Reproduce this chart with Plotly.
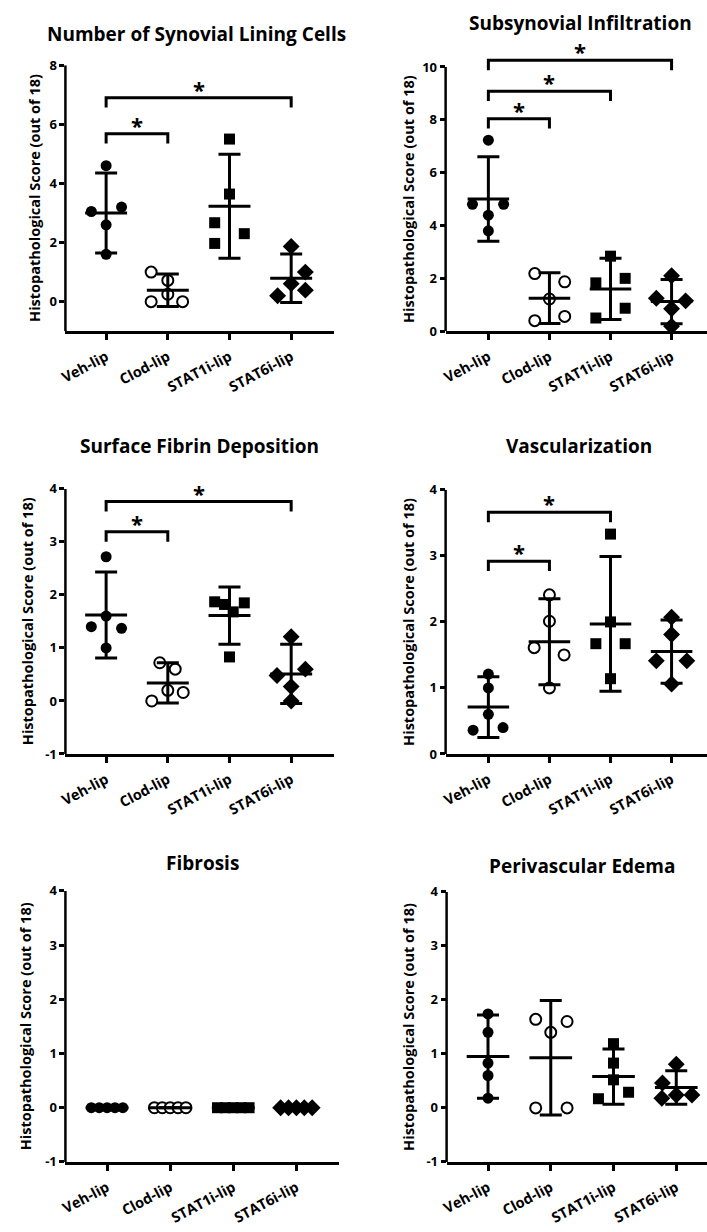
import math
import plotly.graph_objects as go

W, H = 707, 1232
FONT = "Open Sans"

categories = ["Veh-lip", "Clod-lip", "STAT1i-lip", "STAT6i-lip"]
y_axis_label = "Histopathological Score (out of 18)"

# ---------------- data ----------------
lining_title = "Number of Synovial Lining Cells"
lining_values = [[4.6, 3.2, 3.05, 2.6, 1.6],
                 [1.0, 0.72, 0.25, 0.0, 0.0],
                 [5.5, 3.64, 2.67, 2.3, 1.97],
                 [1.87, 1.0, 0.61, 0.39, 0.2]]
lining_mean = [3.0, 0.39, 3.23, 0.79]
lining_sd = [1.35, 0.55, 1.76, 0.82]
lining_sig = [(0, 1, 5.68), (0, 3, 6.9)]

infil_title = "Subsynovial Infiltration"
infil_values = [[7.23, 4.8, 4.8, 4.39, 3.8],
                [2.18, 1.87, 1.22, 0.56, 0.4],
                [2.84, 2.0, 1.83, 0.87, 0.5],
                [2.1, 1.25, 1.15, 0.85, 0.19]]
infil_mean = [5.0, 1.25, 1.6, 1.12]
infil_sd = [1.6, 0.96, 1.16, 0.84]
infil_sig = [(0, 1, 8.04), (0, 2, 9.08), (0, 3, 10.25)]

fibrin_title = "Surface Fibrin Deposition"
fibrin_values = [[2.72, 1.6, 1.4, 1.37, 1.0],
                 [0.72, 0.6, 0.2, 0.16, 0.0],
                 [1.87, 1.82, 1.85, 1.68, 0.83],
                 [1.21, 0.6, 0.48, 0.27, 0.0]]
fibrin_mean = [1.62, 0.34, 1.61, 0.51]
fibrin_sd = [0.81, 0.38, 0.54, 0.56]
fibrin_sig = [(0, 1, 3.19), (0, 3, 3.76)]

vasc_title = "Vascularization"
vasc_values = [[1.21, 1.0, 0.6, 0.4, 0.36],
               [2.41, 2.01, 1.61, 1.5, 1.0],
               [3.33, 2.0, 1.67, 1.67, 1.14],
               [2.07, 1.81, 1.41, 1.41, 1.06]]
vasc_mean = [0.71, 1.7, 1.97, 1.55]
vasc_sd = [0.46, 0.65, 1.02, 0.48]
vasc_sig = [(0, 1, 2.92), (0, 2, 3.66)]

fibrosis_title = "Fibrosis"
fibrosis_values = [[0, 0, 0, 0, 0],
                   [0, 0, 0, 0, 0],
                   [0, 0, 0, 0, 0],
                   [0, 0, 0, 0, 0]]
fibrosis_mean = [0, 0, 0, 0]
fibrosis_sd = [0, 0, 0, 0]
fibrosis_sig = []

edema_title = "Perivascular Edema"
edema_values = [[1.74, 1.4, 0.83, 0.6, 0.18],
                [1.64, 1.6, 1.4, 0.0, 0.0],
                [1.19, 0.83, 0.52, 0.29, 0.17],
                [0.81, 0.46, 0.18, 0.24, 0.24]]
edema_mean = [0.95, 0.93, 0.58, 0.38]
edema_sd = [0.77, 1.06, 0.51, 0.31]
edema_sig = []

# ---------------- layout / style (horizontal spread of dots, in category units) ----------------
lining_jitter = [[0, 0.25, -0.24, 0, 0], [-0.27, 0, 0, -0.27, 0.24],
                 [0, 0, -0.24, 0.24, -0.24], [0, 0.23, 0, 0.23, -0.22]]
infil_jitter = [[0, -0.26, 0.25, 0, 0], [-0.24, 0.25, 0, 0.25, -0.24],
                [0, 0.24, -0.24, 0.24, -0.24], [0, -0.25, 0.23, 0, 0]]
fibrin_jitter = [[0, 0, -0.24, 0.25, 0], [-0.13, 0.12, 0, 0.25, -0.26],
                 [-0.24, -0.08, 0.24, 0.06, 0], [0, 0.23, -0.23, 0, 0]]
vasc_jitter = [[0, 0, 0, 0.24, -0.25], [0, 0, -0.25, 0.24, 0],
               [0, 0, -0.24, 0.24, 0], [0, 0, -0.25, 0.25, 0]]
fibrosis_jitter = [[-0.25, -0.125, 0, 0.125, 0.25]] * 4
edema_jitter = [[0, 0, 0, 0, 0], [-0.24, 0.26, 0, -0.24, 0.26],
                [0, 0, 0, 0.24, -0.24], [0, -0.22, -0.23, 0, 0.25]]

panels = [
    dict(title=lining_title, vals=lining_values, mean=lining_mean, sd=lining_sd, jit=lining_jitter,
         sig=lining_sig, box=(59, 330, 57, 327), xr=(-0.66, 3.69), yr=(-1, 8), ytop=8, dtick=2,
         tpos=(191, 25), ytx=27),
    dict(title=infil_title, vals=infil_values, mean=infil_mean, sd=infil_sd, jit=infil_jitter,
         sig=infil_sig, box=(443, 707, 32, 327), xr=(-0.70, 3.58), yr=(0, 11), ytop=10, dtick=2,
         tpos=(579, 14), ytx=405),
    dict(title=fibrin_title, vals=fibrin_values, mean=fibrin_mean, sd=fibrin_sd, jit=fibrin_jitter,
         sig=fibrin_sig, box=(59, 330, 487, 756), xr=(-0.66, 3.69), yr=(-1, 4), ytop=4, dtick=1,
         tpos=(194, 443), ytx=21),
    dict(title=vasc_title, vals=vasc_values, mean=vasc_mean, sd=vasc_sd, jit=vasc_jitter,
         sig=vasc_sig, box=(443, 707, 488, 756), xr=(-0.70, 3.58), yr=(0, 4), ytop=4, dtick=1,
         tpos=(578, 443), ytx=406),
    dict(title=fibrosis_title, vals=fibrosis_values, mean=fibrosis_mean, sd=fibrosis_sd, jit=fibrosis_jitter,
         sig=fibrosis_sig, box=(59, 335, 895, 1170), xr=(-0.66, 3.67), yr=(-1, 4), ytop=4, dtick=1,
         tpos=(197, 867), ytx=19),
    dict(title=edema_title, vals=edema_values, mean=edema_mean, sd=edema_sd, jit=edema_jitter,
         sig=edema_sig, box=(444, 707, 896, 1170), xr=(-0.66, 3.49), yr=(-1, 4), ytop=4, dtick=1,
         tpos=(581, 870), ytx=406),
]

markers = [
    dict(symbol="circle", size=11, color="black", line=dict(color="black", width=0)),
    dict(symbol="circle", size=11, color="white", line=dict(color="black", width=2)),
    dict(symbol="square", size=11, color="black", line=dict(color="black", width=0)),
    dict(symbol="diamond", size=13, color="black", line=dict(color="black", width=0)),
]

LW = 3
YTICKFONT = dict(family=FONT, size=13, color="black", weight="bold")
XTICKFONT = dict(family=FONT, size=14.5, color="black", weight="bold")
fig = go.Figure()
layout = dict(
    width=W, height=H, margin=dict(l=0, r=0, t=0, b=0),
    paper_bgcolor="white", plot_bgcolor="white", showlegend=False,
    font=dict(family=FONT, color="black", weight="bold"),
)
annotations = []
shapes = []

for n, p in enumerate(panels, start=1):
    sfx = "" if n == 1 else str(n)
    xa, ya = "x" + sfx, "y" + sfx
    x0, x1, yt, yb = p["box"]
    layout["xaxis" + sfx] = dict(
        domain=[x0 / W, x1 / W], range=list(p["xr"]), anchor=ya,
        tickmode="array", tickvals=[0, 1, 2, 3], ticktext=categories, tickangle=-28,
        ticks="outside", ticklen=6, tickwidth=2.5, tickcolor="black", ticklabelstandoff=3,
        showline=True, linewidth=2.5, linecolor="black", showgrid=False, zeroline=False,
        tickfont=XTICKFONT,
    )
    start = int(math.ceil(p["yr"][0] / p["dtick"]) * p["dtick"])
    yticks = list(range(start, p["ytop"] + 1, p["dtick"]))
    layout["yaxis" + sfx] = dict(
        domain=[1 - yb / H, 1 - yt / H], range=list(p["yr"]), anchor=xa,
        tickmode="array", tickvals=yticks, ticktext=[str(v) for v in yticks],
        ticks="outside", ticklen=5, tickwidth=2.5, tickcolor="black",
        showline=False, showgrid=False, zeroline=False,
        tickfont=YTICKFONT,
    )
    # y axis line
    shapes.append(dict(type="line", xref=xa + " domain", yref=ya, x0=0, x1=0,
                       y0=p["yr"][0], y1=p["ytop"], line=dict(color="black", width=2.5)))

    # dots
    for g in range(4):
        xs = [g + j for j in p["jit"][g]]
        fig.add_trace(go.Scatter(x=xs, y=p["vals"][g], mode="markers", marker=markers[g],
                                 xaxis=xa, yaxis=ya, cliponaxis=False, hoverinfo="skip"))
    # SD error bars
    fig.add_trace(go.Scatter(
        x=[0, 1, 2, 3], y=p["mean"], mode="markers", xaxis=xa, yaxis=ya,
        marker=dict(size=1, color="rgba(0,0,0,0)"),
        error_y=dict(type="data", array=p["sd"], visible=True, thickness=LW, width=11, color="black"),
        cliponaxis=False, hoverinfo="skip"))
    # mean lines
    mx, my = [], []
    for g in range(4):
        mx += [g - 0.34, g + 0.34, None]
        my += [p["mean"][g], p["mean"][g], None]
    fig.add_trace(go.Scatter(x=mx, y=my, mode="lines", line=dict(color="black", width=LW),
                             xaxis=xa, yaxis=ya, hoverinfo="skip"))
    # significance brackets
    ppu = (yb - yt) / (p["yr"][1] - p["yr"][0])  # pixels per unit
    drop = 10 / ppu
    for a, b, h in p["sig"]:
        fig.add_trace(go.Scatter(x=[a, a, b, b], y=[h - drop, h, h, h - drop], mode="lines",
                                 line=dict(color="black", width=LW), xaxis=xa, yaxis=ya,
                                 hoverinfo="skip"))
        annotations.append(dict(x=(a + b) / 2, y=h, xref=xa, yref=ya, text="*", showarrow=False,
                                yanchor="bottom", yshift=-8,
                                font=dict(family=FONT, size=22, color="black", weight="bold")))
    # panel title
    tx, ty = p["tpos"]
    annotations.append(dict(x=tx / W, y=1 - ty / H, xref="paper", yref="paper", text=p["title"],
                            showarrow=False, xanchor="center", yanchor="middle",
                            font=dict(family=FONT, size=19, color="black", weight="bold")))
    # y axis title
    ymid_px = yb - (p["ytop"] - p["yr"][0]) * ppu / 2
    annotations.append(dict(x=p["ytx"] / W, y=1 - ymid_px / H, xref="paper", yref="paper",
                            text=y_axis_label, textangle=-90, showarrow=False,
                            xanchor="center", yanchor="middle",
                            font=dict(family=FONT, size=14.5, color="black", weight="bold")))

layout["annotations"] = annotations
layout["shapes"] = shapes
fig.update_layout(**layout)
fig.write_html("out.html")
